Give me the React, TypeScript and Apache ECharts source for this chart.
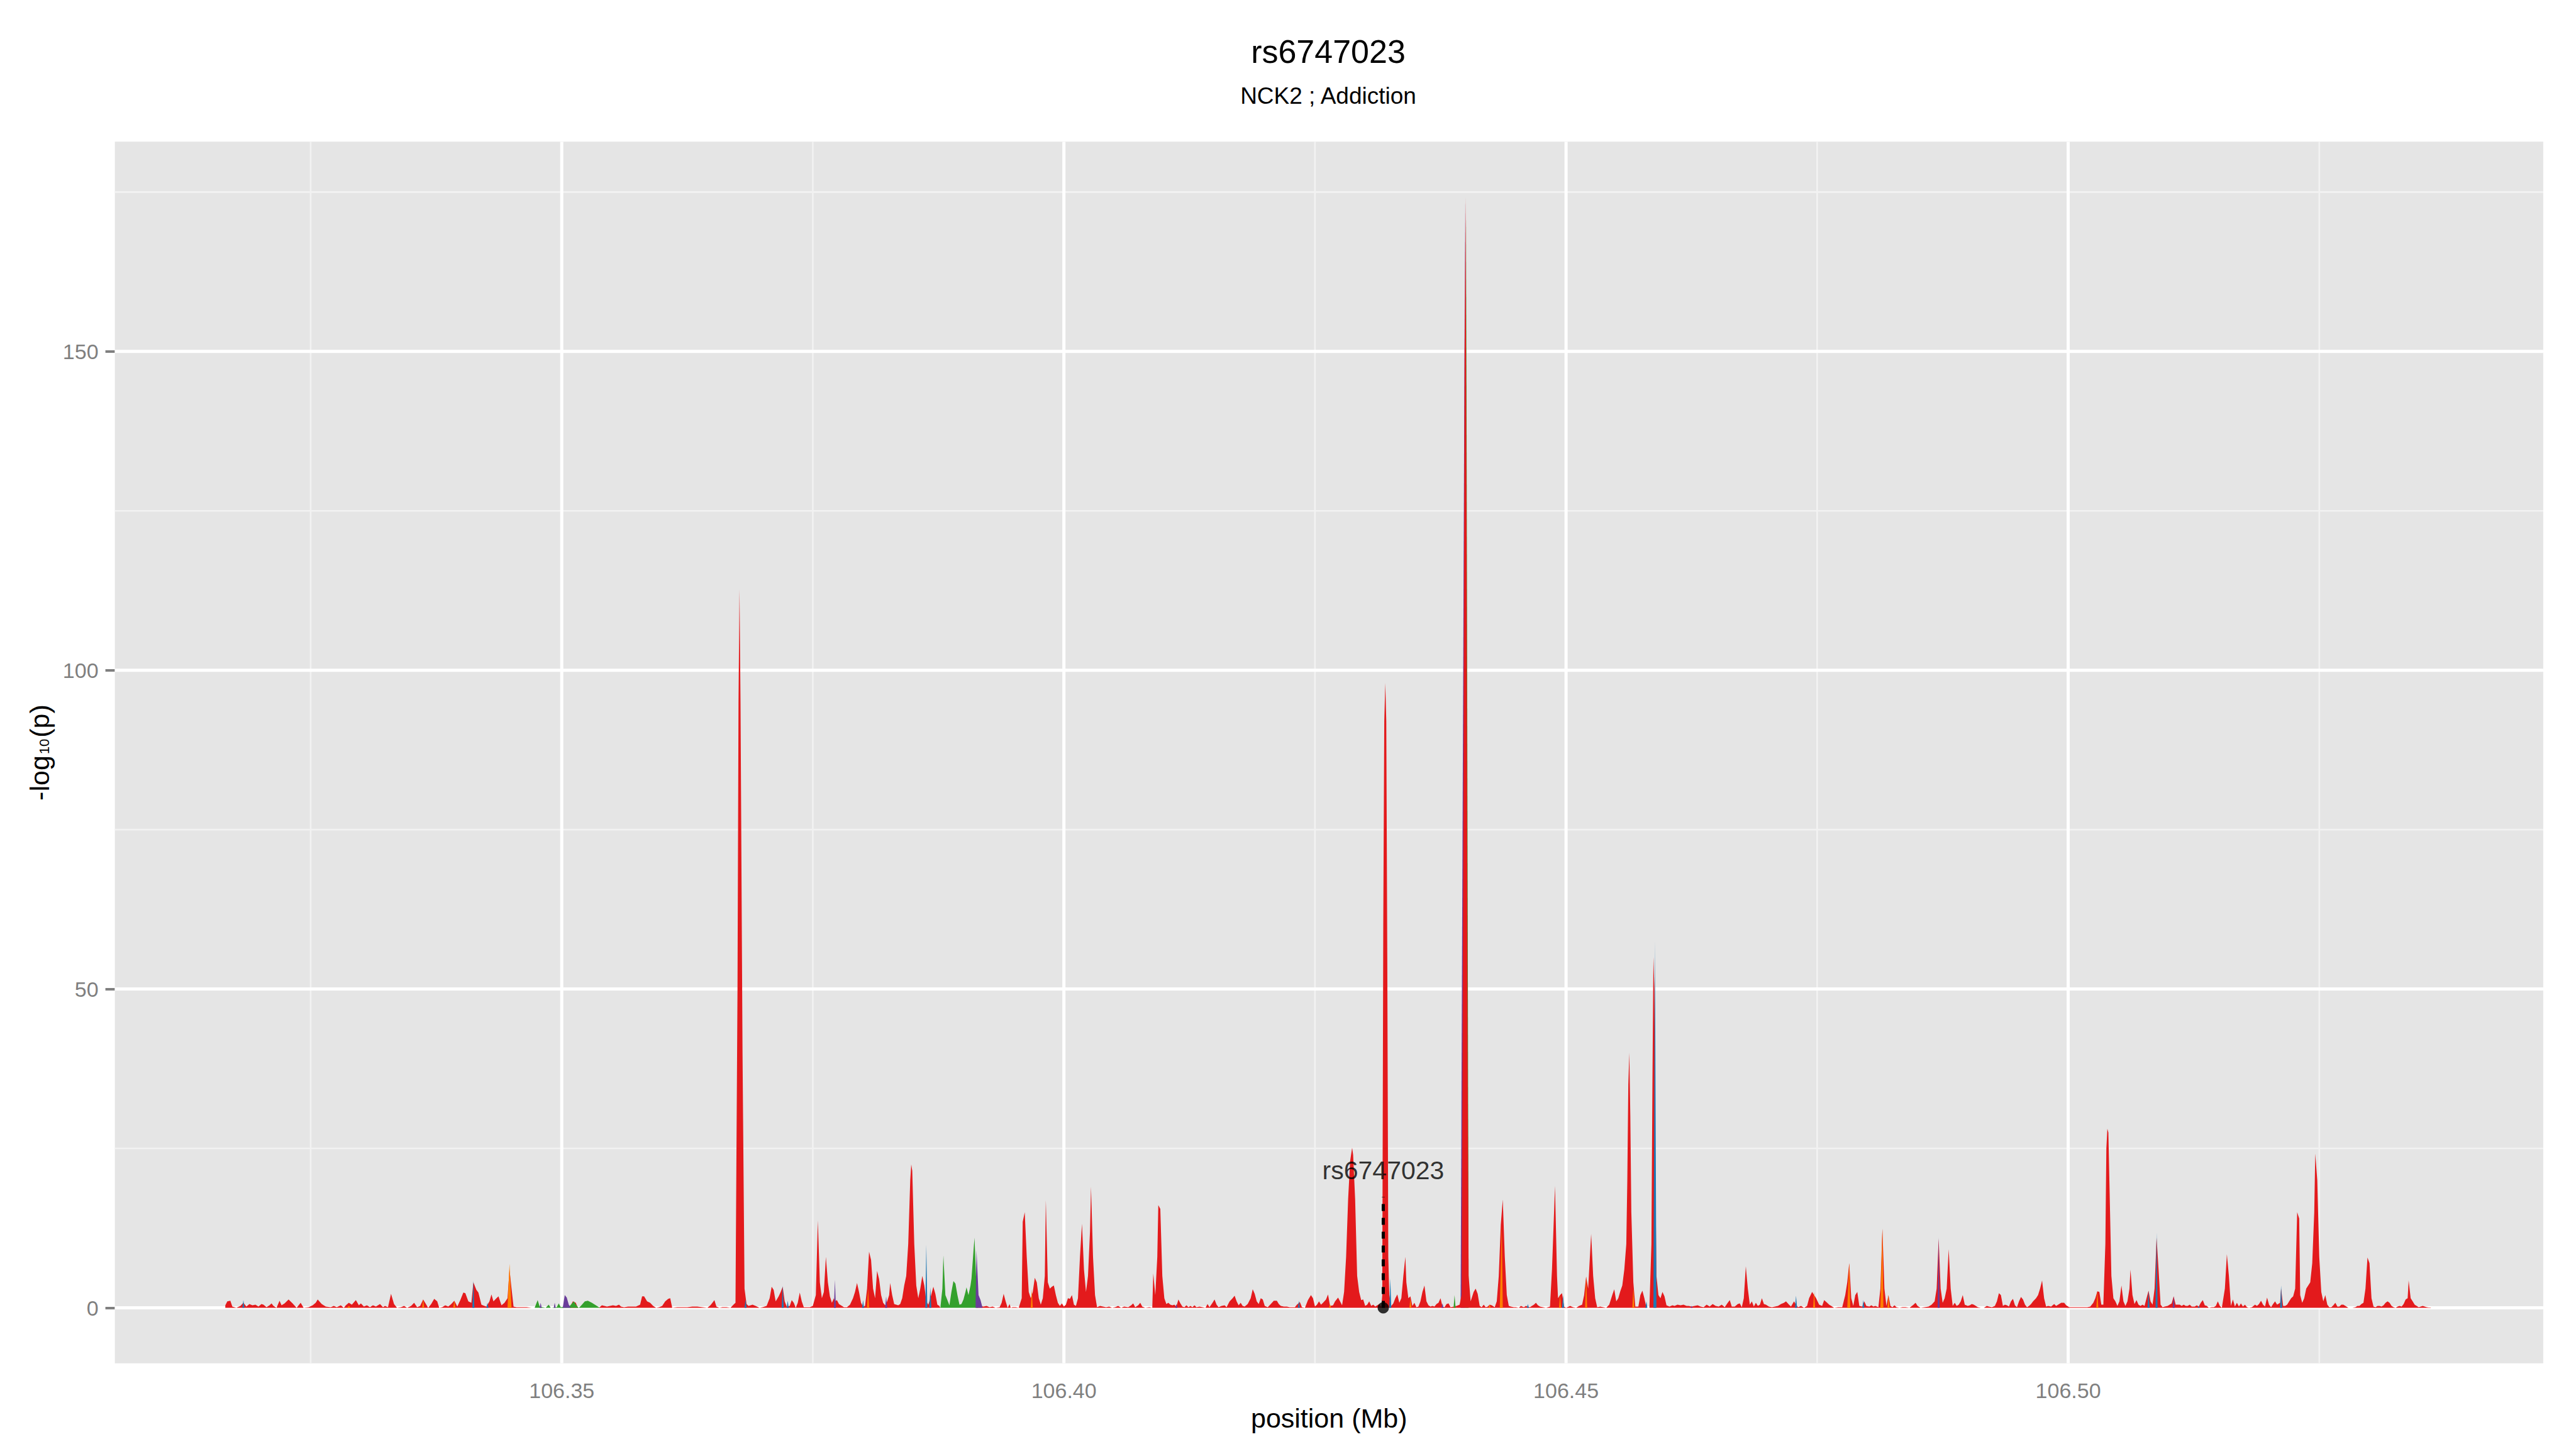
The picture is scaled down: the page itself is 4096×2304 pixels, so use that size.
import React, { useEffect, useRef } from 'react';
import * as echarts from 'echarts';

// ---------- chart data ----------
const titleText = 'rs6747023';
const subtitleText = 'NCK2 ; Addiction';
const xAxisTitle = 'position (Mb)';

const xTickValues = [106.35, 106.4, 106.45, 106.5];
const xMinorGrid = [106.325, 106.375, 106.425, 106.475, 106.525];
const yTickValues = [0, 50, 100, 150];
const yMinorGrid = [25, 75, 125, 175];
const xRange = [106.3055, 106.5473];
const yRange = [-8.71, 182.9];

const snpName = 'rs6747023';
const snpPos = 106.4318;
const snpLabelY = 21.6;
const snpLineTop = 17.4;

// red (dominant) -log10(p) profile
const redPoints = [
  [106.3165,0.4],[106.3167,1.0],[106.3170,1.1],[106.3172,0.2],[106.3176,0],[106.3180,0.3],[106.3183,0.8],[106.3186,0.2],[106.3189,0.6],[106.3192,0.4],
  [106.3195,0.5],[106.3198,0.2],[106.3201,0.6],[106.3203,0.5],[106.3206,0.1],[106.3209,0.4],[106.3211,0.7],[106.3213,0.3],[106.3216,0],[106.3219,1.1],
  [106.3221,0.4],[106.3224,0.7],[106.3228,1.3],[106.3232,0.7],[106.3236,0],[106.3240,0.8],[106.3243,0],[106.3248,0.1],[106.3252,0.4],[106.3255,0.8],
  [106.3257,1.3],[106.3261,0.6],[106.3265,0.2],[106.3270,0.1],[106.3273,0.3],[106.3276,0.1],[106.3280,0.4],[106.3283,0],[106.3285,0.4],[106.3288,0.8],
  [106.3291,0.5],[106.3295,1.2],[106.3298,0.4],[106.3300,0.7],[106.3303,0.2],[106.3306,0.4],[106.3309,0.1],[106.3312,0.4],[106.3315,0.2],[106.3319,0.6],
  [106.3322,0.1],[106.3324,0.3],[106.3327,0.1],[106.3330,2.2],[106.3333,0.6],[106.3336,0],[106.3340,0.1],[106.3343,0.3],[106.3346,0],[106.3350,0.3],
  [106.3353,0.8],[106.3356,0.1],[106.3359,0.3],[106.3362,1.3],[106.3364,0.8],[106.3367,0],[106.3370,0.6],[106.3373,1.4],[106.3376,1.0],[106.3378,0],
  [106.3381,0.1],[106.3384,0.4],[106.3387,0.2],[106.3390,0.6],[106.3393,1.1],[106.3396,0.2],[106.3399,1.2],[106.3402,2.4],[106.3404,2.3],[106.3407,1.0],
  [106.3410,0.8],[106.3412,4.0],[106.3415,2.8],[106.3417,2.4],[106.3420,0.5],[106.3423,0.3],[106.3425,0.2],[106.3428,1.0],[106.3430,2.1],[106.3432,1.0],
  [106.3435,1.5],[106.3437,1.8],[106.3440,0.4],[106.3443,0.8],[106.3446,1.5],[106.3448,6.0],[106.3450,3.0],[106.3452,0.2],[106.3455,0.1],[106.3460,0.1],
  [106.3465,0.1],[106.3470,0],[106.3508,0],[106.3511,1.0],[106.3514,0.8],[106.3516,0],[106.3537,0],[106.3540,0.4],[106.3545,0.2],[106.3548,0.3],
  [106.3551,0.4],[106.3554,0.3],[106.3557,0.5],[106.3559,0.2],[106.3562,0.1],[106.3566,0.2],[106.3570,0.2],[106.3574,0.2],[106.3578,0.5],[106.3580,1.8],
  [106.3582,1.8],[106.3585,1.0],[106.3588,0.8],[106.3591,0.3],[106.3594,0],[106.3597,0.1],[106.3600,0.3],[106.3603,1.0],[106.3606,1.4],[106.3608,1.5],
  [106.3610,0],[106.3615,0.1],[106.3620,0.1],[106.3625,0.1],[106.3630,0.2],[106.3635,0.2],[106.3640,0.1],[106.3645,0],[106.3648,0.4],[106.3650,0.8],
  [106.3652,1.2],[106.3654,0.2],[106.3657,0],[106.3660,0.1],[106.3664,0.1],[106.3668,0],[106.3671,0.5],[106.3673,0.8],[106.3675,50],[106.3676,95],
  [106.3677,112.7],[106.3678,95],[106.3680,40],[106.3682,3],[106.3684,0.6],[106.3686,0.3],[106.3690,0.5],[106.3693,0.3],[106.3697,0],[106.3700,0.1],
  [106.3704,0.3],[106.3707,1.5],[106.3709,3.3],[106.3711,2.8],[106.3713,1.0],[106.3716,1.8],[106.3718,2.5],[106.3720,3.3],[106.3722,1.0],[106.3724,0.2],
  [106.3727,0.3],[106.3729,1.2],[106.3731,0.8],[106.3733,0],[106.3735,0.8],[106.3737,2.4],[106.3739,1.0],[106.3741,0.1],[106.3744,0.1],[106.3747,0.1],
  [106.3750,0.3],[106.3753,2.0],[106.3755,13.7],[106.3757,4],[106.3759,1.5],[106.3761,2.5],[106.3763,8.0],[106.3765,4],[106.3767,1.8],[106.3769,0.8],
  [106.3771,1.5],[106.3772,1.0],[106.3774,1.2],[106.3776,0.6],[106.3779,0.3],[106.3781,0.1],[106.3784,0.1],[106.3787,0.5],[106.3790,1.5],[106.3792,2.5],
  [106.3794,3.9],[106.3796,2.5],[106.3798,0.8],[106.3800,0.2],[106.3802,0.3],[106.3804,3],[106.3806,8.8],[106.3808,7.5],[106.3810,3],[106.3812,1.5],
  [106.3814,5.8],[106.3816,4.5],[106.3818,2],[106.3820,0.8],[106.3822,0.4],[106.3824,1],[106.3826,2],[106.3827,3.9],[106.3829,2],[106.3831,0.6],
  [106.3833,0.5],[106.3835,0.4],[106.3837,0.6],[106.3839,1.5],[106.3841,3.5],[106.3843,5],[106.3845,10],[106.3847,20],[106.3848,22.5],[106.3849,21.5],
  [106.3851,10],[106.3853,3.5],[106.3855,1.5],[106.3857,3.0],[106.3859,5.0],[106.3861,3.5],[106.3863,1.0],[106.3865,0.5],[106.3867,1.5],[106.3870,3.3],
  [106.3872,2.2],[106.3874,0.5],[106.3876,0.3],[106.3877,0],[106.3913,0],[106.3916,0.3],[106.3920,0.2],[106.3923,0.3],[106.3926,0.1],[106.3929,0.2],
  [106.3932,0],[106.3936,0.1],[106.3938,0.8],[106.3940,2.2],[106.3942,1],[106.3944,0],[106.3946,0.6],[106.3947,0],[106.3949,0.1],[106.3952,0.1],
  [106.3955,0],[106.3958,1.5],[106.3959,13.5],[106.3961,15.0],[106.3963,8],[106.3965,2.5],[106.3967,1.5],[106.3969,2.5],[106.3971,4.7],[106.3973,4.0],
  [106.3975,1.5],[106.3977,0.5],[106.3979,1.5],[106.3981,5],[106.3982,16.9],[106.3984,4],[106.3986,3],[106.3988,3.3],[106.3990,3.5],[106.3992,2],
  [106.3994,0.8],[106.3996,0.3],[106.3998,0.7],[106.4000,0.2],[106.4002,0.5],[106.4004,1.5],[106.4006,1.4],[106.4008,2.0],[106.4010,0.5],[106.4012,0.3],
  [106.4014,1.5],[106.4016,8],[106.4018,13.2],[106.4020,6],[106.4022,2.5],[106.4024,5],[106.4026,12],[106.4027,19.0],[106.4029,8],[106.4031,2],
  [106.4033,0.1],[106.4036,0.3],[106.4039,0.2],[106.4042,0.1],[106.4045,0.2],[106.4048,0],[106.4051,0.1],[106.4054,0.3],[106.4057,0],[106.4060,0.2],
  [106.4064,0.1],[106.4067,0.4],[106.4069,0.7],[106.4071,0.1],[106.4074,0.4],[106.4076,0.8],[106.4078,0.2],[106.4081,0],[106.4085,0.1],[106.4088,0],
  [106.4089,5.4],[106.4091,2],[106.4093,8],[106.4094,16.1],[106.4096,15.5],[106.4098,5],[106.4100,1.5],[106.4102,0.6],[106.4104,0.8],[106.4106,0.5],
  [106.4108,0.4],[106.4110,0.5],[106.4112,0.2],[106.4114,1.3],[106.4116,0.7],[106.4118,0.2],[106.4120,0.1],[106.4122,0.4],[106.4124,0.1],[106.4126,0.3],
  [106.4128,0.1],[106.4130,0.4],[106.4132,0.1],[106.4135,0.2],[106.4138,0.1],[106.4141,0],[106.4143,0.6],[106.4145,0.1],[106.4148,0.8],[106.4150,1.3],
  [106.4152,0.5],[106.4154,0.1],[106.4157,0.3],[106.4160,0.4],[106.4162,0.1],[106.4165,1.0],[106.4168,1.5],[106.4170,1.9],[106.4172,1.0],[106.4174,0.4],
  [106.4176,0.8],[106.4178,0.3],[106.4180,0.2],[106.4183,0.6],[106.4186,1.5],[106.4188,2.9],[106.4190,2.2],[106.4192,1.0],[106.4194,0.6],[106.4196,1.5],
  [106.4198,1.3],[106.4200,0.3],[106.4203,0.1],[106.4206,0.6],[106.4209,1.1],[106.4212,1.1],[106.4214,0.6],[106.4216,0.3],[106.4219,0.2],[106.4222,0.2],
  [106.4225,0.1],[106.4228,0.1],[106.4230,0.1],[106.4232,0.5],[106.4235,0.9],[106.4237,0.1],[106.4240,0],[106.4243,1.2],[106.4246,2.0],[106.4248,1.5],
  [106.4250,0.2],[106.4252,0.5],[106.4254,1.0],[106.4256,0.5],[106.4258,0.8],[106.4261,1.3],[106.4263,2.1],[106.4265,0.3],[106.4268,0.4],[106.4270,1.0],
  [106.4273,1.6],[106.4275,1.0],[106.4277,0.4],[106.4279,2.5],[106.4281,8],[106.4283,17],[106.4285,23],[106.4287,25.1],[106.4288,24],[106.4290,17],
  [106.4292,5],[106.4294,2.5],[106.4296,1.2],[106.4298,1.3],[106.4300,0.3],[106.4302,0.5],[106.4304,1.0],[106.4306,0.3],[106.4308,0.5],[106.4310,0.2],
  [106.4312,0.4],[106.4314,0.6],[106.4316,0.1],[106.4317,2.0],[106.4318,60],[106.4319,92],[106.4320,98.0],[106.4321,92],[106.4322,55],[106.4323,8],
  [106.4324,2],[106.4326,0.3],[106.4328,0.7],[106.4330,1.5],[106.4332,2.1],[106.4334,0.8],[106.4336,1.5],[106.4338,5],[106.4340,8.0],[106.4341,4],
  [106.4343,1.5],[106.4345,1.8],[106.4347,0.3],[106.4349,0.8],[106.4351,0.1],[106.4353,0.2],[106.4355,1.0],[106.4357,2.5],[106.4359,3.5],[106.4361,1.0],
  [106.4363,0.4],[106.4365,0.2],[106.4367,0.3],[106.4369,0.2],[106.4371,0.6],[106.4373,0.8],[106.4375,1.5],[106.4377,0.2],[106.4379,0.1],[106.4381,0.6],
  [106.4383,0.7],[106.4385,0.1],[106.4388,0.2],[106.4391,0.3],[106.4394,0.5],[106.4396,2],[106.4398,90],[106.4399,150],[106.4400,174.2],[106.4401,120],
  [106.4402,40],[106.4403,5],[106.4405,1.0],[106.4408,2.5],[106.4410,3.0],[106.4412,2.2],[106.4414,0.3],[106.4416,0.1],[106.4418,0.5],[106.4420,0.1],
  [106.4422,0.2],[106.4424,0.5],[106.4426,0.4],[106.4429,0.1],[106.4431,1.0],[106.4433,5],[106.4435,13],[106.4437,17.0],[106.4439,8],[106.4441,2],
  [106.4443,0.3],[106.4445,0.2],[106.4448,0.1],[106.4450,0.1],[106.4453,0],[106.4455,0.3],[106.4458,0.1],[106.4460,0.3],[106.4464,0.1],[106.4466,0.3],
  [106.4468,0.5],[106.4470,0.8],[106.4472,0.4],[106.4474,0.2],[106.4477,0.1],[106.4480,0],[106.4484,0.2],[106.4486,6],[106.4489,19.1],[106.4491,5],
  [106.4492,1.5],[106.4494,2.0],[106.4496,2.3],[106.4498,0.2],[106.4500,0],[106.4504,0.3],[106.4507,0.1],[106.4510,0],[106.4513,0.3],[106.4516,0.5],
  [106.4518,2],[106.4520,4.9],[106.4522,3],[106.4525,11.6],[106.4527,5],[106.4529,1.5],[106.4531,0.1],[106.4534,0.2],[106.4537,0.1],[106.4540,0],
  [106.4543,0.5],[106.4546,2],[106.4548,2.9],[106.4550,1.0],[106.4552,1.5],[106.4554,2.6],[106.4556,3.5],[106.4558,6],[106.4560,10],[106.4561,20],
  [106.4562,35],[106.4563,40.0],[106.4564,30],[106.4565,15],[106.4567,4],[106.4569,0.2],[106.4572,0.2],[106.4574,2],[106.4576,2.7],[106.4578,1.5],
  [106.4580,0],[106.4583,0],[106.4585,10],[106.4586,35],[106.4587,55],[106.4588,50],[106.4589,20],[106.4590,5],[106.4592,2],[106.4594,1.5],
  [106.4596,2.5],[106.4598,1.8],[106.4600,0.4],[106.4603,0.2],[106.4606,0.4],[106.4608,0.3],[106.4611,0.5],[106.4614,0.4],[106.4617,0.5],[106.4620,0.3],
  [106.4622,0.3],[106.4625,0.2],[106.4628,0.3],[106.4631,0.4],[106.4634,0.2],[106.4637,0.1],[106.4640,0.5],[106.4643,0.2],[106.4646,0.6],[106.4649,0.3],
  [106.4652,0.2],[106.4655,0.5],[106.4658,0.1],[106.4661,0.8],[106.4663,1.2],[106.4665,0.2],[106.4668,0.2],[106.4671,0.6],[106.4673,0.7],[106.4675,0.1],
  [106.4677,1.5],[106.4679,6.5],[106.4681,3],[106.4683,0.5],[106.4685,1.0],[106.4687,0.2],[106.4689,0.8],[106.4691,0.3],[106.4693,0.5],[106.4695,1.5],
  [106.4697,0.6],[106.4699,0.5],[106.4702,0.2],[106.4705,0.1],[106.4708,0.2],[106.4711,0.3],[106.4714,0.6],[106.4717,0.8],[106.4719,1.0],[106.4722,0.5],
  [106.4724,0.2],[106.4727,1.0],[106.4729,0.5],[106.4731,0.1],[106.4734,0.3],[106.4737,0],[106.4740,0.3],[106.4742,1.5],[106.4745,2.5],[106.4747,2.0],
  [106.4749,1.5],[106.4752,0.5],[106.4755,0.3],[106.4757,1.2],[106.4760,0.8],[106.4762,0.5],[106.4764,0.3],[106.4767,0],[106.4771,0.1],[106.4775,0.1],
  [106.4778,2],[106.4780,4],[106.4782,7.0],[106.4784,1.5],[106.4786,0.3],[106.4788,2.0],[106.4790,2.5],[106.4792,0.3],[106.4795,0.2],[106.4797,1.0],
  [106.4799,0.3],[106.4802,0.2],[106.4804,0.4],[106.4806,0.2],[106.4808,0.3],[106.4811,0.1],[106.4813,3],[106.4815,12.4],[106.4817,3],[106.4819,0.3],
  [106.4821,2.0],[106.4823,0.3],[106.4825,0.1],[106.4827,0.4],[106.4829,0.1],[106.4832,0],[106.4835,0.1],[106.4838,0.1],[106.4842,0],[106.4846,0.5],
  [106.4848,0.8],[106.4850,0.3],[106.4853,0],[106.4857,0.1],[106.4861,0.2],[106.4864,0.5],[106.4867,1.0],[106.4869,3],[106.4871,10.8],[106.4873,3],
  [106.4875,0.8],[106.4877,1.5],[106.4879,3],[106.4881,9.2],[106.4883,3],[106.4885,0.3],[106.4887,0.8],[106.4889,0.3],[106.4891,0.5],[106.4893,1.0],
  [106.4895,2.0],[106.4897,0.5],[106.4900,0.3],[106.4902,0.4],[106.4904,0.6],[106.4906,0.5],[106.4908,0.3],[106.4910,0.1],[106.4913,0],[106.4916,0],
  [106.4919,0.3],[106.4921,0.2],[106.4924,0.1],[106.4927,0.3],[106.4929,1.0],[106.4931,2.3],[106.4933,2.0],[106.4935,0.3],[106.4937,0.5],[106.4939,0.4],
  [106.4941,0.2],[106.4943,1.0],[106.4945,1.4],[106.4947,0.4],[106.4949,0.1],[106.4951,1.0],[106.4953,1.7],[106.4955,1.3],[106.4957,0.5],[106.4959,0.1],
  [106.4961,0.3],[106.4963,0.6],[106.4965,1.0],[106.4968,1.5],[106.4970,2.0],[106.4972,3],[106.4974,4.3],[106.4976,1.5],[106.4978,0.2],[106.4980,0.3],
  [106.4983,0.2],[106.4986,0.6],[106.4988,0.3],[106.4990,0.5],[106.4993,0.8],[106.4996,0.8],[106.4998,0.4],[106.5001,0.1],[106.5004,0.1],[106.5007,0.1],
  [106.5010,0.1],[106.5013,0.1],[106.5016,0.1],[106.5019,0.1],[106.5022,0.2],[106.5025,0.8],[106.5027,1.5],[106.5029,2.6],[106.5031,2.5],[106.5033,0.5],
  [106.5035,0.5],[106.5037,10],[106.5038,25],[106.5039,28.1],[106.5040,27.5],[106.5041,20],[106.5043,5],[106.5045,1.5],[106.5047,1.0],[106.5049,0.3],
  [106.5051,1.0],[106.5053,3.5],[106.5055,1.0],[106.5057,0.3],[106.5059,1.0],[106.5061,3],[106.5062,6.0],[106.5064,2],[106.5066,0.6],[106.5068,1.2],
  [106.5070,0.5],[106.5072,0.3],[106.5074,0.5],[106.5076,0.3],[106.5078,1.5],[106.5080,2.7],[106.5082,1.0],[106.5084,0.5],[106.5086,3],[106.5088,11.0],
  [106.5090,6],[106.5092,0.5],[106.5094,0.1],[106.5096,0.2],[106.5099,0.3],[106.5101,0.5],[106.5103,0.7],[106.5105,1.8],[106.5107,0.5],[106.5109,0.5],
  [106.5111,0.5],[106.5113,0.3],[106.5115,0.5],[106.5117,0.3],[106.5119,0.3],[106.5121,0.5],[106.5123,0.2],[106.5126,0.2],[106.5128,0.4],[106.5130,0.2],
  [106.5132,0.8],[106.5134,1.2],[106.5136,0.4],[106.5138,0.3],[106.5140,0],[106.5143,0.1],[106.5145,0.1],[106.5147,0.3],[106.5149,1.0],[106.5151,0.3],
  [106.5153,0],[106.5156,3],[106.5158,8.4],[106.5160,5],[106.5162,0.3],[106.5164,1.3],[106.5166,0.2],[106.5168,0.8],[106.5170,0.2],[106.5172,0.7],
  [106.5174,0.2],[106.5176,0.5],[106.5178,0.1],[106.5180,0],[106.5183,0.1],[106.5186,0.5],[106.5188,0.3],[106.5190,0.6],[106.5192,1.1],[106.5194,0.5],
  [106.5196,0.2],[106.5198,1.6],[106.5200,0.5],[106.5202,0.1],[106.5204,0.6],[106.5206,1.0],[106.5208,0.5],[106.5211,0.8],[106.5212,3.0],[106.5214,0.3],
  [106.5216,0.3],[106.5218,0.5],[106.5220,1.0],[106.5222,1.5],[106.5224,1.8],[106.5226,3],[106.5228,15.0],[106.5230,14],[106.5231,2],[106.5233,0.8],
  [106.5235,1.5],[106.5237,3],[106.5239,3.5],[106.5241,4],[106.5243,7],[106.5245,15],[106.5246,24.2],[106.5248,20],[106.5250,8],[106.5252,2.5],
  [106.5254,1.0],[106.5256,2.0],[106.5258,0.5],[106.5260,0.1],[106.5262,0.1],[106.5264,0.4],[106.5266,0.8],[106.5268,0.2],[106.5270,0.2],[106.5272,0.5],
  [106.5274,0.5],[106.5276,0.3],[106.5279,0],[106.5283,0],[106.5286,0.1],[106.5288,0.3],[106.5290,0.3],[106.5292,0.6],[106.5294,0.8],[106.5296,3],
  [106.5298,7.9],[106.5300,7],[106.5302,1.5],[106.5304,0.2],[106.5306,0.1],[106.5308,0.3],[106.5310,0.3],[106.5312,0.2],[106.5314,0.4],[106.5316,0.8],
  [106.5318,1.0],[106.5320,0.8],[106.5322,0.3],[106.5324,0.1],[106.5326,0],[106.5328,0.2],[106.5330,0.3],[106.5332,0.2],[106.5334,0.6],[106.5336,1.3],
  [106.5338,1.5],[106.5339,4.3],[106.5341,1.5],[106.5343,1.0],[106.5345,0.5],[106.5347,0.3],[106.5349,0.1],[106.5351,0.2],[106.5353,0.3],[106.5355,0.2],
  [106.5357,0.1],[106.5359,0.05],[106.5361,0.05],
];

// other categories, drawn behind red (edges of the tallest spike)
const purpleBehind = [[106.4395,0],[106.43995,174],[106.4400,0]];
const greenBehind = [[106.4400,0],[106.44005,172],[106.4403,0]];

// other categories, drawn over red
const orangePoints = [
  [106.3286,0],[106.3288,0.3],[106.3290,0],[106.3361,0],[106.3362,1.3],[106.3363,0],[106.3392,0],[106.3393,1.1],[106.3394,0],
  [106.3446,0],[106.3448,6.9],[106.3450,0],[106.3804,0],[106.3805,3.0],[106.3806,0],[106.3967,0],[106.3968,2.9],[106.3969,0],
  [106.4264,0],[106.4265,0.6],[106.4266,0],[106.4344,0],[106.4345,1.4],[106.4346,0],[106.4423,0],[106.4424,0.5],[106.4425,0],
  [106.4434,0],[106.4436,13.0],[106.4437,0],[106.4493,0],[106.4494,2.0],[106.4495,0],[106.4519,0],[106.4520,4.9],[106.4521,0],
  [106.4566,0],[106.4567,3.0],[106.4568,0],[106.4746,0],[106.4747,2.5],[106.4748,0],[106.4780,0],[106.4782,7.0],[106.4783,0],
  [106.4813,0],[106.4815,12.4],[106.4816,0],[106.4820,0],[106.4821,2.0],[106.4822,0],[106.5028,0],[106.5029,2.6],[106.5030,0],
];
const bluePoints = [
  [106.3182,0],[106.3183,1.2],[106.3184,0],[106.3411,0],[106.3412,4.3],[106.3413,0],[106.3425,0],[106.3426,0.8],[106.3427,0],
  [106.3682,0],[106.3683,1.3],[106.3684,0],[106.3719,0],[106.3720,3.5],[106.3721,0],[106.3724,0],[106.3725,1.1],[106.3726,0],
  [106.3799,0],[106.3800,1.2],[106.3801,0],[106.3862,0],[106.3863,9.9],[106.3864,0],[106.3866,0],[106.3867,3.2],[106.3868,0],
  [106.4233,0],[106.4234,1.1],[106.4235,0],[106.4324,0],[106.4325,4.6],[106.4326,0],[106.4461,0],[106.4462,0.6],[106.4463,0],
  [106.4496,0],[106.4497,2.0],[106.4498,0],[106.4579,0],[106.4580,1.0],[106.4581,0],[106.4587,0],[106.45885,57.5],[106.4590,0],
  [106.4728,0],[106.4729,1.9],[106.4730,0],[106.4795,0],[106.4796,1.2],[106.4797,0],[106.5079,0],[106.5080,2.7],[106.5081,0],
  [106.5087,0],[106.5088,11.8],[106.5089,0],[106.5129,0],[106.5130,0.3],[106.5131,0],[106.5211,0],[106.5212,3.5],[106.5213,0],
];
const greenPoints = [
  [106.3473,0],[106.3476,1.2],[106.3478,0.2],[106.3484,0],[106.3487,0.5],[106.3489,0],[106.3495,0.1],[106.3497,0.7],[106.3499,0.1],
  [106.3508,0.3],[106.3512,1.0],[106.3515,0.3],[106.3517,0],[106.3519,0.3],[106.3523,1.0],[106.3526,1.1],[106.3530,0.8],[106.3534,0.4],[106.3538,0],
  [106.3877,0],[106.3879,3],[106.3880,8.2],[106.3882,2],[106.3884,1.2],[106.3886,0.4],[106.3888,2.5],[106.3890,4.2],[106.3892,3.8],[106.3894,2],
  [106.3896,0.5],[106.3898,0.6],[106.3900,1.3],[106.3902,2.5],[106.3903,3.2],[106.3905,2],[106.3907,3.5],[106.3908,4.6],[106.3910,9],[106.3911,11.0],
  [106.3913,3],[106.3914,0],[106.4388,0],[106.4389,2.0],[106.4390,0],
];
const purplePoints = [
  [106.3478,0],[106.3479,0.8],[106.3480,0],[106.3492,0],[106.3493,0.8],[106.3494,0],[106.3501,0],[106.3503,2.0],[106.3505,1.6],[106.3507,0.5],[106.3509,0],
  [106.3771,0],[106.3772,4.4],[106.3773,0],[106.3822,0],[106.3823,1.8],[106.3824,0],[106.3912,0],[106.3913,9],[106.3915,2.0],[106.3917,1.2],[106.3919,0],
  [106.4111,0],[106.4112,0.6],[106.4113,0],[106.4376,0],[106.4377,0.7],[106.4378,0],[106.4624,0],[106.4625,0.3],[106.4626,0],
  [106.4870,0],[106.4871,11.1],[106.4872,0],[106.5104,0],[106.5105,1.8],[106.5106,0],
];

// ---------- styling ----------
const FONT = '"Liberation Sans", Arial, Helvetica, sans-serif';
const RED = '#E31A1C';
const ORANGE = '#FF7F00';
const BLUE = '#1F78B4';
const GREEN = '#33A02C';
const PURPLE = '#6A3D9A';

function areaSeries(name: string, data: number[][], color: string, z: number) {
  return {
    name,
    type: 'line',
    data,
    z,
    symbol: 'none',
    showSymbol: false,
    silent: true,
    lineStyle: { width: 0, opacity: 0 },
    areaStyle: { color, opacity: 1 },
  };
}

function gridSeries(kind: 'h' | 'v', values: number[], color: string, width: number) {
  return {
    type: 'custom',
    z: 1,
    silent: true,
    clip: true,
    data: values.map((v) => (kind === 'h' ? [xRange[0], v] : [v, 0])),
    renderItem: (params: any, api: any) => {
      let p1: number[];
      let p2: number[];
      if (kind === 'h') {
        const v = api.value(1);
        p1 = api.coord([xRange[0], v]);
        p2 = api.coord([xRange[1], v]);
      } else {
        const v = api.value(0);
        p1 = api.coord([v, yRange[0]]);
        p2 = api.coord([v, yRange[1]]);
      }
      return {
        type: 'line',
        shape: { x1: p1[0], y1: p1[1], x2: p2[0], y2: p2[1] },
        style: { stroke: color, lineWidth: width },
      };
    },
  };
}

export default function App() {
  const ref = useRef<HTMLDivElement>(null);
  useEffect(() => {
    if (!ref.current) return;
    const chart = echarts.init(ref.current, null, { renderer: 'svg' });
    const option: any = {
      animation: false,
      backgroundColor: '#FFFFFF',
      textStyle: { fontFamily: FONT },
      grid: {
        show: true,
        backgroundColor: '#E5E5E5',
        borderWidth: 0,
        left: 182.6,
        right: 52.1,
        top: 225.3,
        bottom: 136.2,
        containLabel: false,
      },
      graphic: [
        {
          type: 'text',
          x: 2112,
          y: 82,
          style: {
            text: titleText,
            fill: '#000',
            font: `52px ${FONT}`,
            fontSize: 52,
            fontFamily: FONT,
            align: 'center',
            verticalAlign: 'middle',
            textAlign: 'center',
            textVerticalAlign: 'middle',
          },
        },
        {
          type: 'text',
          x: 2112,
          y: 152,
          style: {
            text: subtitleText,
            fill: '#000',
            font: `37px ${FONT}`,
            fontSize: 37,
            fontFamily: FONT,
            align: 'center',
            verticalAlign: 'middle',
            textAlign: 'center',
            textVerticalAlign: 'middle',
          },
        },
      ],
      xAxis: {
        type: 'value',
        min: xRange[0],
        max: xRange[1],
        name: xAxisTitle,
        nameLocation: 'middle',
        nameGap: 66,
        nameTextStyle: { fontSize: 43, color: '#000', fontFamily: FONT },
        axisLine: { show: false },
        splitLine: { show: false },
        axisTick: {
          show: true,
          length: 15,
          customValues: xTickValues,
          lineStyle: { color: '#7F7F7F', width: 4 },
        },
        axisLabel: {
          customValues: xTickValues,
          formatter: (v: number) => v.toFixed(2),
          fontSize: 34,
          color: '#7F7F7F',
          margin: 26,
          fontFamily: FONT,
        },
      },
      yAxis: {
        type: 'value',
        min: yRange[0],
        max: yRange[1],
        name: '-log{s|10}(p)',
        nameLocation: 'middle',
        nameRotate: 90,
        nameGap: 98,
        nameTextStyle: {
          fontSize: 43,
          color: '#000',
          fontFamily: FONT,
          rich: {
            s: { fontSize: 22, fontFamily: FONT, color: '#000', verticalAlign: 'bottom', padding: [0, 2, 3, 2] },
          },
        },
        axisLine: { show: false },
        splitLine: { show: false },
        axisTick: {
          show: true,
          length: 15,
          customValues: yTickValues,
          lineStyle: { color: '#7F7F7F', width: 4 },
        },
        axisLabel: {
          customValues: yTickValues,
          fontSize: 34,
          color: '#7F7F7F',
          margin: 26,
          fontFamily: FONT,
        },
      },
      series: [
        gridSeries('h', yMinorGrid, '#F2F2F2', 2.6),
        gridSeries('v', xMinorGrid, '#F2F2F2', 2.6),
        gridSeries('h', yTickValues, '#FFFFFF', 5),
        gridSeries('v', xTickValues, '#FFFFFF', 5),
        areaSeries('purple-behind', purpleBehind, PURPLE, 2),
        areaSeries('green-behind', greenBehind, GREEN, 2),
        areaSeries('red', redPoints, RED, 2),
        areaSeries('orange', orangePoints, ORANGE, 3),
        areaSeries('blue', bluePoints, BLUE, 3),
        areaSeries('green', greenPoints, GREEN, 3),
        areaSeries('purple', purplePoints, PURPLE, 3),
        {
          type: 'line',
          z: 5,
          silent: true,
          symbol: 'none',
          data: [
            [snpPos, 0],
            [snpPos, snpLineTop],
          ],
          lineStyle: { color: '#000', width: 5, type: [11, 11] },
        },
        {
          type: 'scatter',
          z: 6,
          silent: true,
          data: [[snpPos, 0]],
          symbol: 'circle',
          symbolSize: 18,
          itemStyle: { color: '#000' },
        },
        {
          type: 'scatter',
          z: 6,
          silent: true,
          data: [[snpPos, snpLabelY]],
          symbolSize: 0,
          itemStyle: { color: 'rgba(0,0,0,0)' },
          label: {
            show: true,
            position: 'inside',
            formatter: snpName,
            fontSize: 41,
            color: '#000',
            fontFamily: FONT,
          },
        },
      ],
    };
    chart.setOption(option);
    return () => chart.dispose();
  }, []);
  return (
    <div
      ref={ref}
      style={{ position: 'fixed', left: 0, top: 0, width: 4096, height: 2304, background: '#fff' }}
    />
  );
}
